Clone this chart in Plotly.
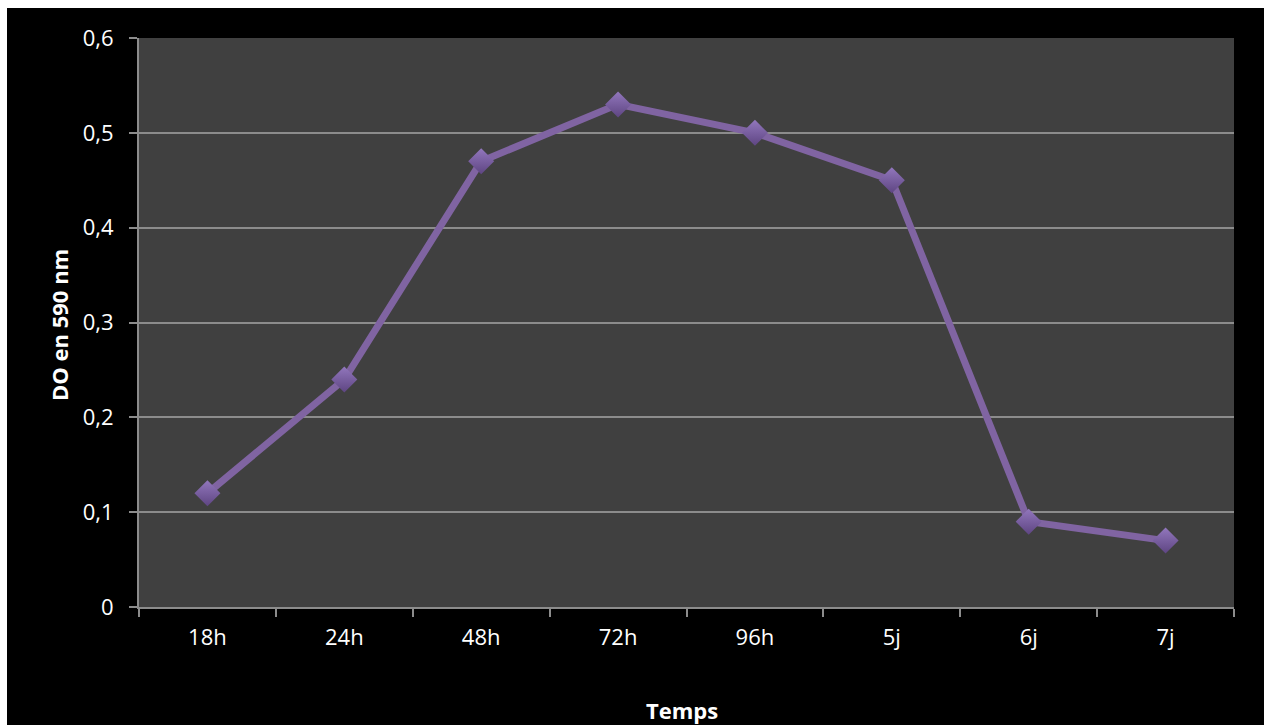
import plotly.graph_objects as go

# Optical density measured over time
temps = ["18h", "24h", "48h", "72h", "96h", "5j", "6j", "7j"]
do_590 = [0.12, 0.24, 0.47, 0.53, 0.50, 0.45, 0.09, 0.07]

y_tickvals = [0, 0.1, 0.2, 0.3, 0.4, 0.5, 0.6]
y_ticktext = ["0", "0,1", "0,2", "0,3", "0,4", "0,5", "0,6"]

W, H = 1264, 725
ML, MR, MT, MB = 139, 30, 38, 118
PW, PH = W - ML - MR, H - MT - MB

FONT = "Open Sans, sans-serif"
PURPLE = "#8064A2"
GRID = "#8c8c8c"

fig = go.Figure()
fig.add_trace(go.Scatter(
    x=temps, y=do_590, mode="lines+markers",
    line=dict(color=PURPLE, width=7),
    marker=dict(symbol="diamond", size=20, color="#9277bd",
                gradient=dict(type="vertical", color="#5e4582"),
                line=dict(width=0)),
    showlegend=False, hoverinfo="x+y",
))


def px_x(p):
    return (p - ML) / PW


def px_y(p):
    return (H - MB - p) / PH


# thin white frame on the top and left of the black canvas
fig.add_shape(type="rect", xref="paper", yref="paper",
              x0=px_x(0), x1=px_x(W), y0=px_y(8), y1=px_y(0),
              fillcolor="white", line=dict(width=0), layer="above")
fig.add_shape(type="rect", xref="paper", yref="paper",
              x0=px_x(0), x1=px_x(7), y0=px_y(H), y1=px_y(0),
              fillcolor="white", line=dict(width=0), layer="above")

fig.add_annotation(text="<b>Temps</b>", xref="paper", yref="paper",
                   x=px_x(682), y=px_y(710), xanchor="center", yanchor="middle",
                   showarrow=False, font=dict(family=FONT, size=22, color="white"))
fig.add_annotation(text="<b>DO en 590 nm</b>", xref="paper", yref="paper",
                   x=px_x(59), y=px_y(325), xanchor="center", yanchor="middle",
                   textangle=-90, showarrow=False,
                   font=dict(family=FONT, size=22, color="white"))

fig.update_layout(
    width=W, height=H,
    margin=dict(l=ML, r=MR, t=MT, b=MB),
    paper_bgcolor="black", plot_bgcolor="#404040",
    font=dict(family=FONT, size=22, color="white"),
    xaxis=dict(
        type="category", tickson="boundaries", ticks="outside", ticklen=8,
        tickcolor=GRID, tickwidth=2, showgrid=False, showline=True,
        linecolor=GRID, linewidth=2, ticklabelstandoff=10,
        tickfont=dict(family=FONT, size=22, color="white"),
        range=[-0.5, 7.5], fixedrange=True,
    ),
    yaxis=dict(
        range=[0, 0.6], tickvals=y_tickvals, ticktext=y_ticktext,
        ticks="outside", ticklen=8, tickcolor=GRID, tickwidth=2,
        showgrid=True, gridcolor=GRID, gridwidth=2,
        showline=True, linecolor=GRID, linewidth=2, zeroline=False,
        ticklabelstandoff=11,
        tickfont=dict(family=FONT, size=22, color="white"),
        fixedrange=True,
    ),
)

fig.write_html("out.html")
